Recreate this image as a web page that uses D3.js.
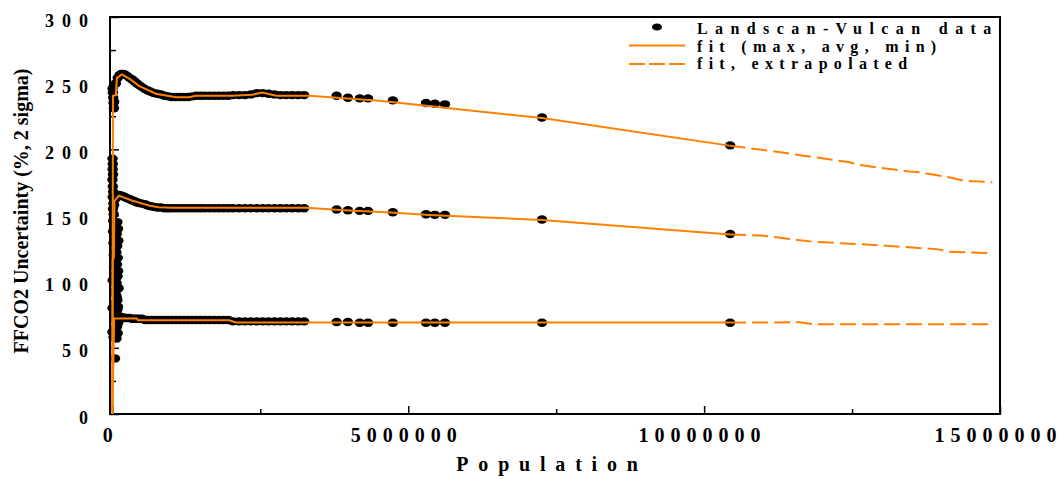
<!DOCTYPE html>
<html>
<head>
<meta charset="utf-8">
<script src="https://cdn.jsdelivr.net/npm/d3@7"></script>
<style>
  body { margin: 0; background: #fff; }
  text { font-family: "Liberation Serif", "Times New Roman", serif; font-weight: bold; }
</style>
</head>
<body>
<div id="chart"></div>
<script>
//Data
//Landscan-Vulcan points: population and the max / avg / min uncertainty
const dataPop = [30000, 60000, 90000, 120000, 150000, 180000, 210000, 250000, 290000, 330000, 370000, 410000, 450000, 500000, 550000, 600000, 650000, 700000, 760000, 820000, 880000, 940000, 1000000, 1070000, 1140000, 1210000, 1280000, 1350000, 1420000, 1490000, 1560000, 1640000, 1720000, 1800000, 1880000, 1960000, 2040000, 2140000, 2240000, 2340000, 2440000, 2540000, 2640000, 2740000, 2840000, 2940000, 3040000, 3140000, 3240000, 3790000, 3980000, 4180000, 4320000, 4740000, 5300000, 5450000, 5620000, 7260000, 10440000];
const dataMax = [236, 250, 254, 256, 257, 257, 256.5, 255.5, 254, 253, 251.5, 250, 248.5, 247, 245.5, 244.5, 243.5, 242.5, 242, 241.5, 240.5, 240, 239.5, 239.5, 239.5, 239.5, 239.5, 240, 240.5, 240.5, 240.5, 240.5, 240.5, 240.5, 240.5, 240.5, 241, 241, 241, 241.5, 242.5, 242.5, 242, 241.5, 241, 241, 241, 241, 241, 240.5, 239, 238.5, 238.5, 237, 235, 234.5, 234, 224, 203];
const dataAvg = [158, 163, 165, 165.5, 165, 164.5, 164, 163, 162.5, 161.5, 161, 160, 159.5, 159, 158.5, 157.5, 157, 156.5, 156, 156, 155.5, 155.5, 155.5, 155.5, 155.5, 155.5, 155.5, 155.5, 155.5, 155.5, 155.5, 155.5, 155.5, 155.5, 155.5, 155.5, 155.5, 155.5, 155.5, 155.5, 155.5, 155.5, 155.5, 155.5, 155.5, 155.5, 155.5, 155.5, 155.5, 154.5, 154, 153.5, 153.5, 152.5, 151, 150.5, 150.5, 147, 136];
const dataMin = [74, 74.5, 74, 73.5, 73, 73, 72.5, 72.5, 72.5, 72, 72, 72, 72, 72, 71, 71, 71, 71, 71, 71, 71, 71, 71, 71, 71, 71, 71, 71, 71, 71, 71, 71, 71, 71, 71, 71, 70, 70, 70, 70, 70, 70, 70, 70, 70, 70, 70, 70, 70, 69.5, 69.5, 69, 69, 69, 69, 69, 69, 69, 69];

//scattered points at very small populations
const nearZeroPop = [4000, 9000, 14000, 20000, 26000, 3000, 7000, 5000, 11000, 2000, 8000, 13000, 6000, 17000, 10000, 22000, 15000, 30000, 12000, 38000, 19000, 45000, 24000, 52000, 28000, 60000, 35000, 68000, 42000, 76000, 48000, 85000, 56000, 64000, 40000, 20000, 45000,
    70000, 90000, 80000, 100000, 75000, 95000, 85000, 65000, 105000, 72000, 88000, 98000, 78000, 92000, 68000, 82000, 102000, 74000, 96000, 86000, 1000, 3000, 6000];
const nearZeroVal = [246, 243, 239, 235, 231, 193, 189, 185, 181, 177, 172, 168, 164, 159, 155, 151, 146, 142, 138, 133, 129, 124, 120, 115, 111, 106, 102, 97, 93, 88, 84, 79, 74, 70, 65, 58, 42,
    57, 61, 66, 69, 76, 81, 86, 90, 95, 99, 104, 108, 113, 118, 122, 127, 131, 136, 140, 145, 62, 80, 101];

//fit curves [population, value]
const fitMax = [[0, 0], [10000, 240.5], [60000, 241], [76000, 254], [160000, 256.6], [300000, 253], [448000, 248], [736000, 242], [1074000, 239.3], [1294000, 239.3], [1410000, 240.5], [2020000, 240.5], [2360000, 241.2], [2530000, 242.9], [2770000, 240.5], [3320000, 240.5], [4510000, 236.7], [7260000, 223.6], [10430000, 202.8]];
const fitAvg = [[0, 0], [5000, 116], [25000, 118], [35000, 161], [110000, 165], [330000, 161.3], [617000, 157.5], [786000, 156.3], [1000000, 155.8], [3270000, 155.8], [3990000, 153.8], [4710000, 152.3], [5350000, 150.4], [7260000, 146.6], [10440000, 135.7]];
const fitMin = [[0, 0], [30000, 72.1], [415000, 72.1], [430000, 70.8], [1970000, 70.8], [2090000, 69.1], [10440000, 69.1]];

//extrapolated fits [population, value]
const extMax = [[10430000, 202.8], [11100000, 199], [12460000, 190.2], [12580000, 188.4], [13470000, 183.2], [13640000, 182.6], [14140000, 178.9], [14370000, 176.4], [14870000, 175.1]];
const extAvg = [[10440000, 135.7], [10980000, 134.9], [11830000, 130.2], [13000000, 127.4], [13960000, 124.4], [14130000, 122.6], [14870000, 121.6]];
const extMin = [[10440000, 69.1], [11610000, 69.3], [11860000, 67.8], [14870000, 67.8]];

//ticks
const xTicks = [0, 5000000, 10000000, 15000000];
const xMinorTicks = [2500000, 7500000, 12500000];
const yTicks = [0, 50, 100, 150, 200, 250, 300];
const yMinorTicks = [25, 75, 125, 175, 225, 275];

const legendItems = ["Landscan-Vulcan data", "fit (max, avg, min)", "fit, extrapolated"];

//dimensions
const width = 1063;
const height = 479;
const plotLeft = 110, plotRight = 1000, plotTop = 17, plotBottom = 414;
const orange = "#ff8000";

const svg = d3.select("#chart").append("svg").attr("width", width).attr("height", height);

const x = d3.scaleLinear().domain([-40000, 15000000]).range([plotLeft, plotRight]);
const y = d3.scaleLinear().domain([0, 300]).range([plotBottom, plotTop]);

//frame
svg.append("rect").attr("x", plotLeft).attr("y", plotTop).attr("width", plotRight - plotLeft).attr("height", plotBottom - plotTop)
    .attr("fill", "none").attr("stroke", "#000").attr("stroke-width", 2);

//x axis (ticks pointing in)
const xAxis = svg.append("g").attr("transform", `translate(0, ${plotBottom})`)
    .call(d3.axisBottom(x).tickValues(xTicks).tickSize(-8).tickFormat(d3.format("d")));
svg.append("g").attr("transform", `translate(0, ${plotBottom})`)
    .call(d3.axisBottom(x).tickValues(xMinorTicks).tickSize(-5).tickFormat(""));

//y axis
const yAxis = svg.append("g").attr("transform", `translate(${plotLeft}, 0)`)
    .call(d3.axisLeft(y).tickValues(yTicks).tickSize(-9));
svg.append("g").attr("transform", `translate(${plotLeft}, 0)`)
    .call(d3.axisLeft(y).tickValues(yMinorTicks).tickSize(-6).tickFormat(""));

svg.selectAll(".domain").remove();
svg.selectAll(".tick line").attr("stroke", "#000").attr("stroke-width", 1.5);

xAxis.selectAll("text").attr("fill", "#000").style("font-family", "Liberation Serif").style("font-weight", "bold")
    .style("font-size", "20px").style("letter-spacing", "6px").attr("y", 28).attr("dy", null).attr("dx", -2);
yAxis.selectAll("text").attr("fill", "#000").style("font-family", "Liberation Serif").style("font-weight", "bold")
    .style("font-size", "18px").style("letter-spacing", "8px").attr("x", -14).attr("dy", 9);

//data dots
const points = dataPop.flatMap((p, i) => [[p, dataMax[i]], [p, dataAvg[i]], [p, dataMin[i]]])
    .concat(nearZeroPop.map((p, i) => [p, nearZeroVal[i]]));
svg.append("g").selectAll("ellipse").data(points).enter().append("ellipse")
    .attr("cx", d => x(d[0])).attr("cy", d => y(d[1])).attr("rx", 5.2).attr("ry", 4.2).attr("fill", "#000");

//fit lines
const line = d3.line().x(d => x(d[0])).y(d => y(d[1]));
[fitMax, fitAvg, fitMin].forEach(f => {
    svg.append("path").attr("d", line(f)).attr("fill", "none").attr("stroke", orange).attr("stroke-width", 2);
});
[extMax, extAvg, extMin].forEach(f => {
    svg.append("path").attr("d", line(f)).attr("fill", "none").attr("stroke", orange).attr("stroke-width", 2)
        .attr("stroke-dasharray", "16,6");
});

//legend
const legend = svg.append("g");
legend.append("ellipse").attr("cx", 657).attr("cy", 27).attr("rx", 5).attr("ry", 3.6).attr("fill", "#000");
legend.append("line").attr("x1", 629).attr("x2", 685).attr("y1", 45.5).attr("y2", 45.5).attr("stroke", orange).attr("stroke-width", 2);
legend.append("line").attr("x1", 629).attr("x2", 685).attr("y1", 64).attr("y2", 64).attr("stroke", orange).attr("stroke-width", 2)
    .attr("stroke-dasharray", "16,4");
legend.selectAll("text").data(legendItems).enter().append("text")
    .attr("x", 697).attr("y", (d, i) => 34 + i * 17.5).text(d => d)
    .style("font-size", "16px").style("letter-spacing", (d, i) => i === 0 ? "7.4px" : "6.3px");

//axis titles
svg.append("text").attr("x", 552).attr("y", 471).attr("text-anchor", "middle").text("Population")
    .style("font-size", "20px").style("letter-spacing", "9.8px");
svg.append("text").attr("transform", "translate(28, 211) rotate(-90)").attr("text-anchor", "middle")
    .text("FFCO2 Uncertainty (%, 2 sigma)").style("font-size", "20px");
</script>
</body>
</html>
